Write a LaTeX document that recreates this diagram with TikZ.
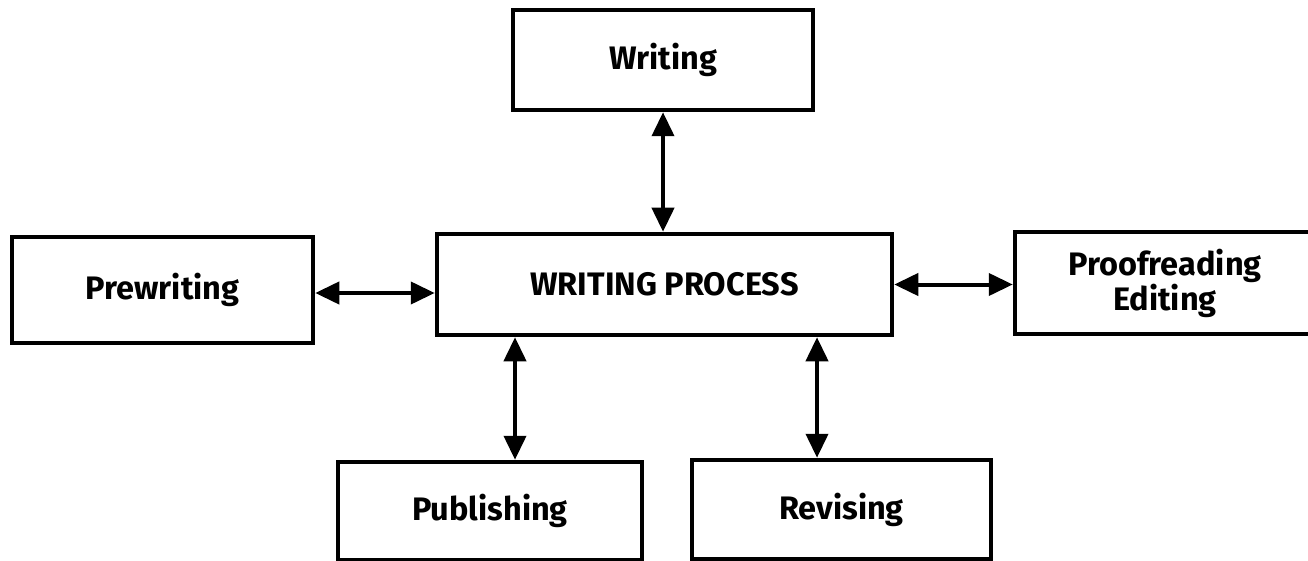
\documentclass[tikz,border=0pt]{standalone}
\usepackage{fontspec}
\setmainfont{Fira Sans}
\usetikzlibrary{arrows.meta}
\begin{document}
\begin{tikzpicture}[x=1pt,y=-1pt,
  stagebox/.style={draw,line width=4.5pt,rectangle,inner sep=0pt,
    font=\fontsize{32.5}{40}\selectfont\bfseries,align=center},
  link/.style={line width=4pt,{Triangle[length=24pt,width=22pt]}-{Triangle[length=24pt,width=22pt]}}]
\useasboundingbox (0,0) rectangle (1308,561);
\node[stagebox,minimum width=300pt,minimum height=100pt] (writing) at (663,60) {Writing};
\node[stagebox,minimum width=455pt,minimum height=101pt] (central) at (664.5,284.5) {WRITING PROCESS};
\node[stagebox,minimum width=301pt,minimum height=106pt] (pre) at (162.5,290) {Prewriting};
\node[stagebox,minimum width=300pt,minimum height=102pt,text width=300pt,align=center] (proof) at (1165,283) {Proofreading\\[-5pt]Editing};
\node[stagebox,minimum width=304pt,minimum height=98pt] (pub) at (490,511) {Publishing};
\node[stagebox,minimum width=299pt,minimum height=99pt] (rev) at (841.5,509.5) {Revising};
\coordinate (pubtop) at ([xshift=25pt]pub.north);
\coordinate (revtop) at ([xshift=-24.5pt]rev.north);
\draw[link] (writing.south) -- (writing.south |- central.north);
\draw[link] ([yshift=-3pt]pre.east) -- ([yshift=-3pt]pre.east -| central.west);
\draw[link] (central.east) -- (central.east -| proof.west);
\draw[link] (pubtop |- central.south) -- (pubtop);
\draw[link] (revtop |- central.south) -- (revtop);
\end{tikzpicture}
\end{document}
